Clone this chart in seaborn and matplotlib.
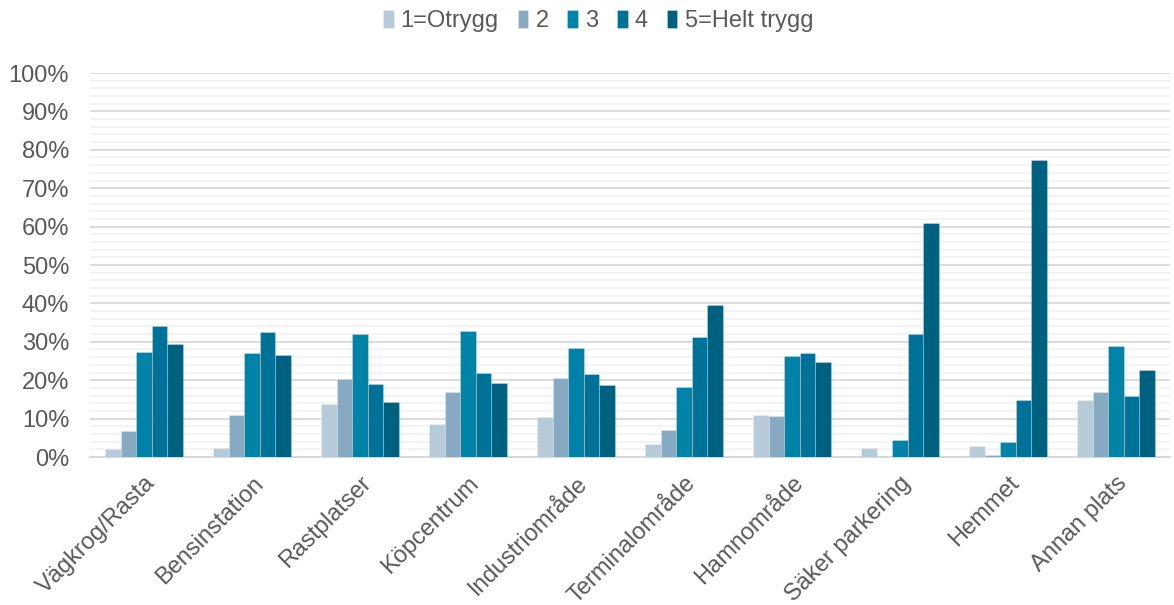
import matplotlib
matplotlib.use("Agg")
import matplotlib.pyplot as plt
from matplotlib.ticker import MultipleLocator, PercentFormatter
import seaborn as sns
import pandas as pd

categories = ["Vägkrog/Rasta", "Bensinstation", "Rastplatser", "Köpcentrum",
              "Industriområde", "Terminalområde", "Hamnområde",
              "Säker parkering", "Hemmet", "Annan plats"]
levels = ["1=Otrygg", "2", "3", "4", "5=Helt trygg"]

otrygg = [2.1, 2.3, 13.8, 8.6, 10.4, 3.4, 10.9, 2.3, 2.8, 14.9]
niva2 = [6.7, 10.9, 20.3, 16.8, 20.5, 7.0, 10.6, 0.0, 0.4, 17.0]
niva3 = [27.3, 27.1, 32.1, 32.7, 28.3, 18.3, 26.2, 4.3, 3.9, 28.9]
niva4 = [34.0, 32.6, 19.1, 22.0, 21.6, 31.3, 27.1, 32.1, 14.9, 16.0]
helt_trygg = [29.3, 26.6, 14.2, 19.4, 18.7, 39.6, 24.7, 60.9, 77.3, 22.6]

colors = ["#B7CAD7", "#87A9C2", "#0083A9", "#007298", "#00607F"]

series = [otrygg, niva2, niva3, niva4, helt_trygg]
rows = []
for lvl, vals in zip(levels, series):
    for cat, v in zip(categories, vals):
        rows.append({"Plats": cat, "Nivå": lvl, "Andel": v})
df = pd.DataFrame(rows)

sns.set_style("white")
plt.rcParams["font.family"] = ["Liberation Sans", "DejaVu Sans"]
text_color = "#595959"
fs = 17

fig = plt.figure(figsize=(11.74, 6.05), dpi=100)
ax = fig.add_axes([90 / 1174, (605 - 457) / 605, 1080 / 1174, 384 / 605])

sns.barplot(data=df, x="Plats", y="Andel", hue="Nivå", order=categories,
            hue_order=levels, palette=colors, saturation=1, width=0.715, gap=0,
            edgecolor=(1, 1, 1, 0.3), linewidth=0.6, ax=ax, zorder=3)

ax.set_ylim(0, 100)
ax.set_xlim(-0.5, len(categories) - 0.5)
ax.yaxis.set_major_locator(MultipleLocator(10))
ax.yaxis.set_minor_locator(MultipleLocator(2))
ax.yaxis.set_major_formatter(PercentFormatter(decimals=0))
ax.grid(which="major", axis="y", color="#D9D9D9", linewidth=1.3, zorder=0)
ax.grid(which="minor", axis="y", color="#F2F2F2", linewidth=1.3, zorder=0)
ax.grid(False, axis="x")
for s in ["top", "right", "left"]:
    ax.spines[s].set_visible(False)
ax.spines["bottom"].set_color("#D9D9D9")
ax.spines["bottom"].set_linewidth(1.5)
ax.set_xlabel("")
ax.set_ylabel("")
ax.tick_params(axis="both", which="both", length=0, colors=text_color, labelsize=fs)
ax.tick_params(axis="y", pad=15)
plt.setp(ax.get_xticklabels(), rotation=45, ha="right", rotation_mode="anchor")
for lbl in ax.get_xticklabels():
    lbl.set_color(text_color)
ax.tick_params(axis="x", pad=11)

handles, labels = ax.get_legend_handles_labels()
ax.legend_.remove()
fig.legend(handles, labels, loc="center", bbox_to_anchor=(598 / 1174, 1 - 21 / 605),
           ncol=5, frameon=False, fontsize=fs, labelcolor=text_color,
           handlelength=0.45, handleheight=0.8, handletextpad=0.3, columnspacing=0.8)

fig.savefig("out.png", dpi=100, facecolor="white")
